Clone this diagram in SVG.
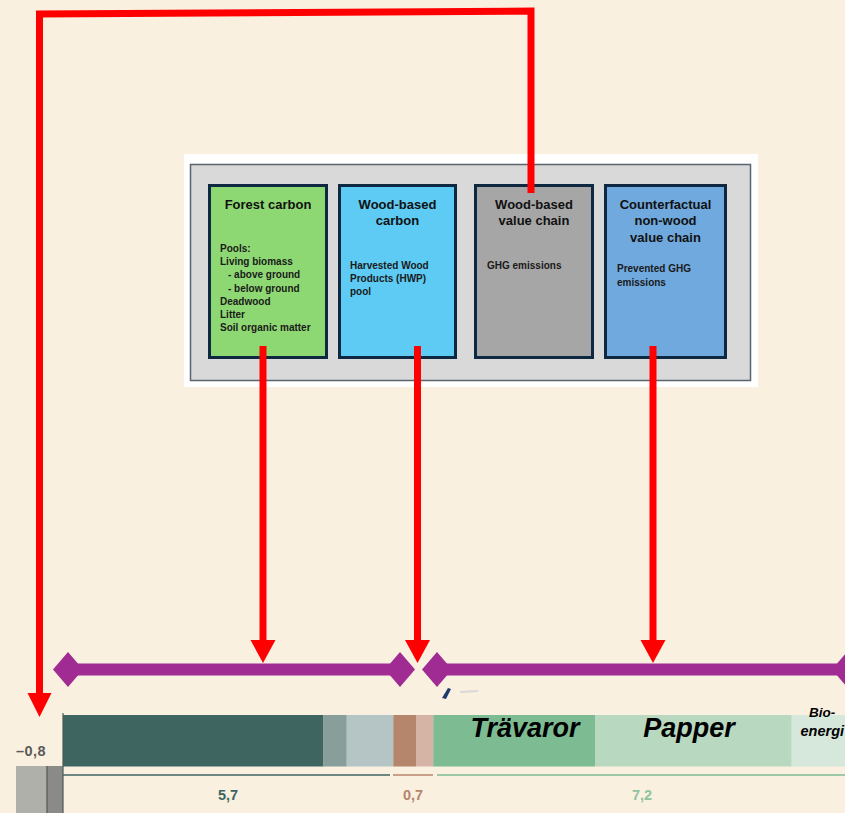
<svg xmlns="http://www.w3.org/2000/svg" width="845" height="813" viewBox="0 0 845 813">
<defs>
<style>
.hdr{font-family:"Liberation Sans",Arial,sans-serif;font-weight:bold;font-size:13px;fill:#111;text-anchor:middle}
.sm{font-family:"Liberation Sans",Arial,sans-serif;font-weight:bold;font-size:10px;fill:#1a1a1a}
.box{stroke:#0E2841;stroke-width:3}
.red{fill:none;stroke:#FF0000;stroke-width:7}
.redhead{fill:#FF0000}
.pur{fill:none;stroke:#A02B93;stroke-width:12}
.dia{fill:#A02B93}
.val{font-family:"Liberation Sans",Arial,sans-serif;font-weight:bold;font-size:14.5px;text-anchor:middle}
.big{font-family:"Liberation Sans",Arial,sans-serif;font-weight:bold;font-style:italic;font-size:27px;fill:#000;text-anchor:middle}
.bio{font-family:"Liberation Sans",Arial,sans-serif;font-weight:bold;font-style:italic;fill:#000}
</style>
</defs>
<rect width="845" height="813" fill="#F9F0E0"/>

<g id="panel">
<rect x="184" y="154" width="574" height="233" fill="#FFFFFF"/>
<rect x="190.5" y="164.5" width="560" height="216" fill="#D9D9D9" stroke="#5A6570" stroke-width="1.5"/>
</g>

<g id="forest-carbon">
<rect class="box" x="209.5" y="185.5" width="117" height="172" fill="#8ED873"/>
<text class="hdr" x="268" y="208.5">Forest carbon</text>
<text class="sm" x="220" y="252">Pools:</text>
<text class="sm" x="220" y="265">Living biomass</text>
<text class="sm" x="228" y="278.3">- above ground</text>
<text class="sm" x="228" y="291.5">- below ground</text>
<text class="sm" x="220" y="304.6">Deadwood</text>
<text class="sm" x="220" y="317.7">Litter</text>
<text class="sm" x="220" y="330.7">Soil organic matter</text>
</g>

<g id="wood-based-carbon">
<rect class="box" x="339.5" y="185.5" width="116" height="172" fill="#5DCBF4"/>
<text class="hdr" x="397.5" y="208.5">Wood-based</text>
<text class="hdr" x="397.5" y="225">carbon</text>
<text class="sm" x="350" y="269">Harvested Wood</text>
<text class="sm" x="350" y="282.3">Products (HWP)</text>
<text class="sm" x="350" y="295">pool</text>
</g>

<g id="wood-based-value-chain">
<rect class="box" x="475.5" y="185.5" width="117" height="172" fill="#A6A6A6"/>
<text class="hdr" x="534" y="208.5">Wood-based</text>
<text class="hdr" x="534" y="225">value chain</text>
<text class="sm" x="487" y="269">GHG emissions</text>
</g>

<g id="counterfactual">
<rect class="box" x="605.5" y="185.5" width="120" height="172" fill="#70A9DE"/>
<text class="hdr" x="665.5" y="208.5">Counterfactual</text>
<text class="hdr" x="665.5" y="225">non-wood</text>
<text class="hdr" x="665.5" y="241.7">value chain</text>
<text class="sm" x="617" y="272.3">Prevented GHG</text>
<text class="sm" x="617" y="285.7">emissions</text>
</g>

<g id="chart">
<rect x="63" y="715" width="260.5" height="51.5" fill="#3F6560"/>
<rect x="323.3" y="715" width="23.5" height="51.5" fill="#889E9A"/>
<rect x="346.7" y="715" width="46.7" height="51.5" fill="#B5C5C5"/>
<rect x="393.3" y="715" width="22.7" height="51.5" fill="#B5866C"/>
<rect x="416" y="715" width="17.4" height="51.5" fill="#D5B3A5"/>
<rect x="433.3" y="715" width="161.7" height="51.5" fill="#7DBB93"/>
<rect x="595" y="715" width="196.7" height="51.5" fill="#B8D8C0"/>
<rect x="791.7" y="715" width="53.3" height="51.5" fill="#D6E8DC"/>
<rect x="16" y="766" width="31" height="47" fill="#B0B0AA"/>
<rect x="47" y="766" width="16" height="47" fill="#8A8A88"/>
<line x1="47" y1="766" x2="47" y2="813" stroke="#555" stroke-width="1.2"/>
<line x1="63" y1="713" x2="63" y2="813" stroke="#4a5a55" stroke-width="1.2"/>
<line x1="63" y1="775" x2="390" y2="775" stroke="#3F6560" stroke-width="1.5"/>
<line x1="393" y1="775" x2="433" y2="775" stroke="#B5866C" stroke-width="1.5"/>
<line x1="437" y1="775" x2="845" y2="775" stroke="#7DBB93" stroke-width="1.5"/>
<text class="val" x="31" y="755.5" fill="#5A5A5A" letter-spacing="0.5">–0,8</text>
<text class="val" x="228" y="799.5" fill="#3F6560">5,7</text>
<text class="val" x="413" y="799.5" fill="#B5866C">0,7</text>
<text class="val" x="642" y="799.5" fill="#8FC4A0">7,2</text>
<text class="big" x="525" y="737">Trävaror</text>
<text class="big" x="689" y="737">Papper</text>
<text class="bio" x="809" y="717" font-size="13.5">Bio-</text>
<text class="bio" x="800.5" y="736" font-size="14.5">energi</text>
<path d="M448 688 L451 689 L446 699 L442 698 Z" fill="#1F3A6E"/>
<line x1="460" y1="692" x2="478" y2="691" stroke="#D8D8D8" stroke-width="2"/>
</g>

<g id="connectors">
<polyline class="red" points="531,193 531,11 39.5,14 39.5,695" stroke-linejoin="miter"/>
<polygon class="redhead" points="27.5,693 51.5,693 39.5,717"/>
<line class="red" x1="263" y1="346" x2="263" y2="642"/>
<polygon class="redhead" points="250.5,640 275.5,640 263,663"/>
<line class="red" x1="417.5" y1="346" x2="417.5" y2="642"/>
<polygon class="redhead" points="405,640 430,640 417.5,663"/>
<line class="red" x1="653" y1="346" x2="653" y2="642"/>
<polygon class="redhead" points="640.5,640 665.5,640 653,663"/>
<line class="pur" x1="68" y1="669.5" x2="400" y2="669.5"/>
<line class="pur" x1="437" y1="669.5" x2="847" y2="669.5"/>
<polygon class="dia" points="53,669.5 68,652 83,669.5 68,687"/>
<polygon class="dia" points="385,669.5 400,652 415,669.5 400,687"/>
<polygon class="dia" points="422,669.5 437,652 452,669.5 437,687"/>
<polygon class="dia" points="832,669.5 847,652 862,669.5 847,687"/>
</g>
</svg>
